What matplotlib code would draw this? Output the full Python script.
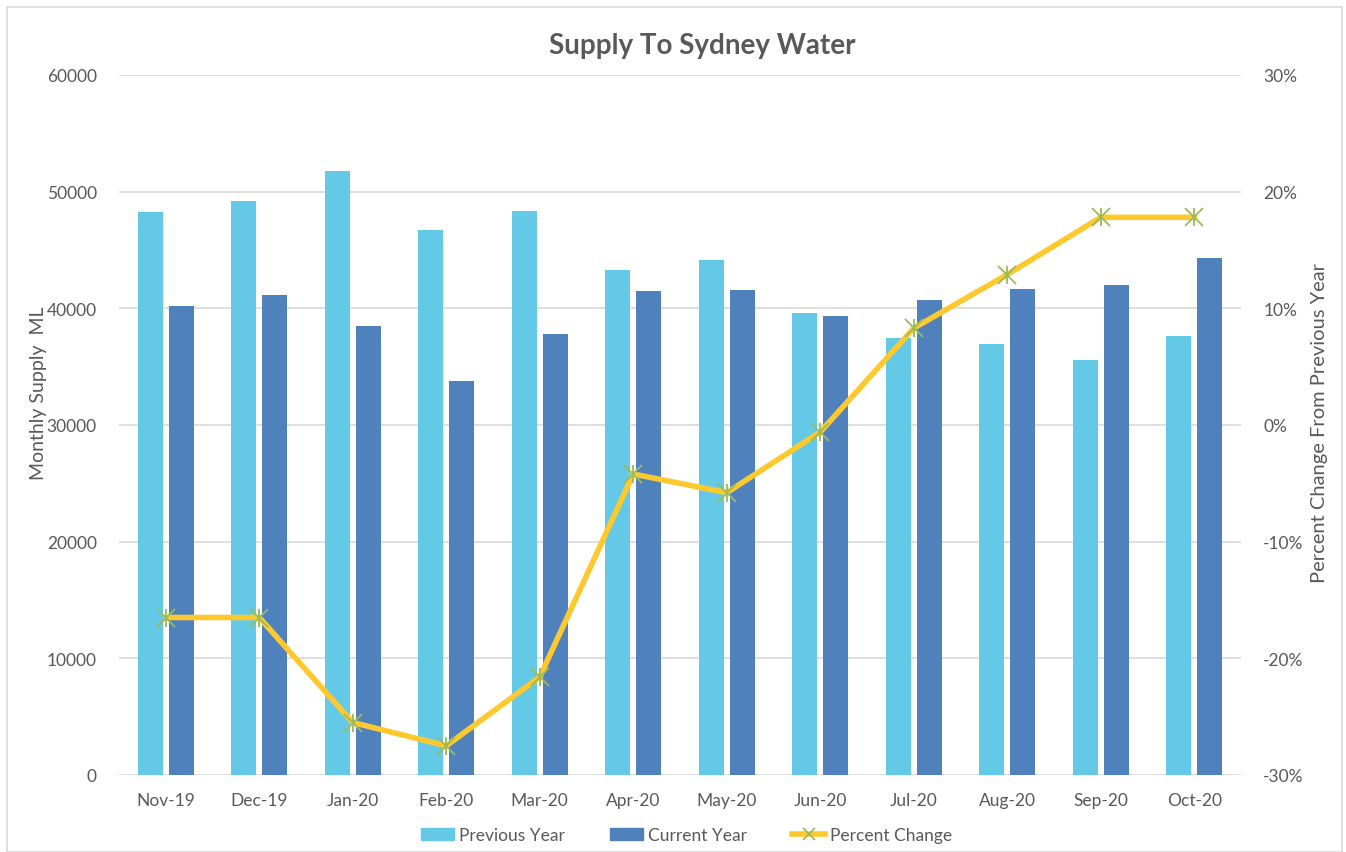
import numpy as np
import matplotlib
matplotlib.use('Agg')
import matplotlib.pyplot as plt
from matplotlib.patches import Rectangle
from matplotlib.lines import Line2D
from matplotlib.ticker import FuncFormatter

plt.rcParams['font.family'] = ['Lato', 'DejaVu Sans']

months = ['Nov-19', 'Dec-19', 'Jan-20', 'Feb-20', 'Mar-20', 'Apr-20',
          'May-20', 'Jun-20', 'Jul-20', 'Aug-20', 'Sep-20', 'Oct-20']
prevYear = [48230, 49200, 51740, 46710, 48340, 43290,
            44170, 39570, 37480, 36940, 35540, 37600]
currYear = [40230, 41140, 38460, 33770, 37830, 41460,
            41540, 39340, 40690, 41660, 42000, 44290]
pctChange = [-16.5, -16.5, -25.5, -27.5, -21.6, -4.2,
             -5.8, -0.6, 8.3, 12.9, 17.8, 17.8]

cPrev = '#63C9E6'
cCurr = '#4F81BD'
cLine = '#FFC92E'
cMark = '#9BBB59'
txt = '#595959'
grid = '#D9D9D9'

fig = plt.figure(figsize=(13.46, 8.53), dpi=100)
fig.patches.append(Rectangle((7 / 1346, 0.0), 1335 / 1346, 1 - 8 / 853,
                             transform=fig.transFigure, fill=False,
                             edgecolor='#D9D9D9', linewidth=1.2))

ax = fig.add_axes([119 / 1346, 77 / 853, 1122 / 1346, 700 / 853])
x = np.arange(len(months))
w = 0.265
off = 0.167
ax.bar(x - off, prevYear, w, color=cPrev, zorder=2)
ax.bar(x + off, currYear, w, color=cCurr, zorder=2)

ax.set_xlim(-0.5, len(months) - 0.5)
ax.set_ylim(0, 60000)
ax.set_yticks(np.arange(0, 60001, 10000))
ax.set_xticks(x)
ax.set_xticklabels(months)
ax.yaxis.grid(True, color=grid, linewidth=1.2, zorder=0)
ax.set_axisbelow(True)
for s in ax.spines.values():
    s.set_visible(False)
ax.tick_params(axis='both', length=0, labelsize=12.5, colors=txt)
ax.tick_params(axis='y', pad=16)
ax.tick_params(axis='x', pad=12)

ax2 = ax.twinx()
ax2.plot(x, pctChange, color=cLine, linewidth=4, zorder=3)
ax2.plot(x, pctChange, linestyle='none', marker='x', markersize=13,
         markeredgecolor=cMark, markeredgewidth=1.3, zorder=4)
ax2.plot(x, pctChange, linestyle='none', marker='|', markersize=13,
         markeredgecolor=cMark, markeredgewidth=1.3, zorder=4)
ax2.set_ylim(-30, 30)
ax2.set_yticks(np.arange(-30, 31, 10))
ax2.yaxis.set_major_formatter(FuncFormatter(lambda v, p: '{:d}%'.format(int(round(v)))))
for s in ax2.spines.values():
    s.set_visible(False)
ax2.tick_params(axis='y', length=0, labelsize=12.5, colors=txt, pad=16)

# axis titles and chart title placed in figure coords
fig.text(39 / 1346, 1 - 393 / 853, 'Monthly Supply  ML', rotation=90,
         ha='center', va='center', fontsize=14, color=txt)
fig.text(1319 / 1346, 1 - 423 / 853, 'Percent Change From Previous Year',
         rotation=90, ha='center', va='center', fontsize=14.5, color=txt)
fig.text(702 / 1346, 1 - 46 / 853, 'Supply To Sydney Water', ha='center',
         va='center', fontsize=20, fontweight='bold', color=txt)

handles = [Rectangle((0, 0), 1, 1, color=cPrev),
           Rectangle((0, 0), 1, 1, color=cCurr),
           Line2D([], [], color=cLine, linewidth=4, marker='x', markersize=8,
                  markeredgecolor=cMark, markeredgewidth=1.3)]
fig.legend(handles, ['Previous Year', 'Current Year', 'Percent Change'],
           loc='center', bbox_to_anchor=(0.51, 0.02), ncol=3, frameon=False,
           fontsize=12.5, labelcolor=txt, handlelength=1.9, handleheight=0.7,
           handletextpad=0.3, columnspacing=2.6)

fig.savefig('out.png', dpi=100)
